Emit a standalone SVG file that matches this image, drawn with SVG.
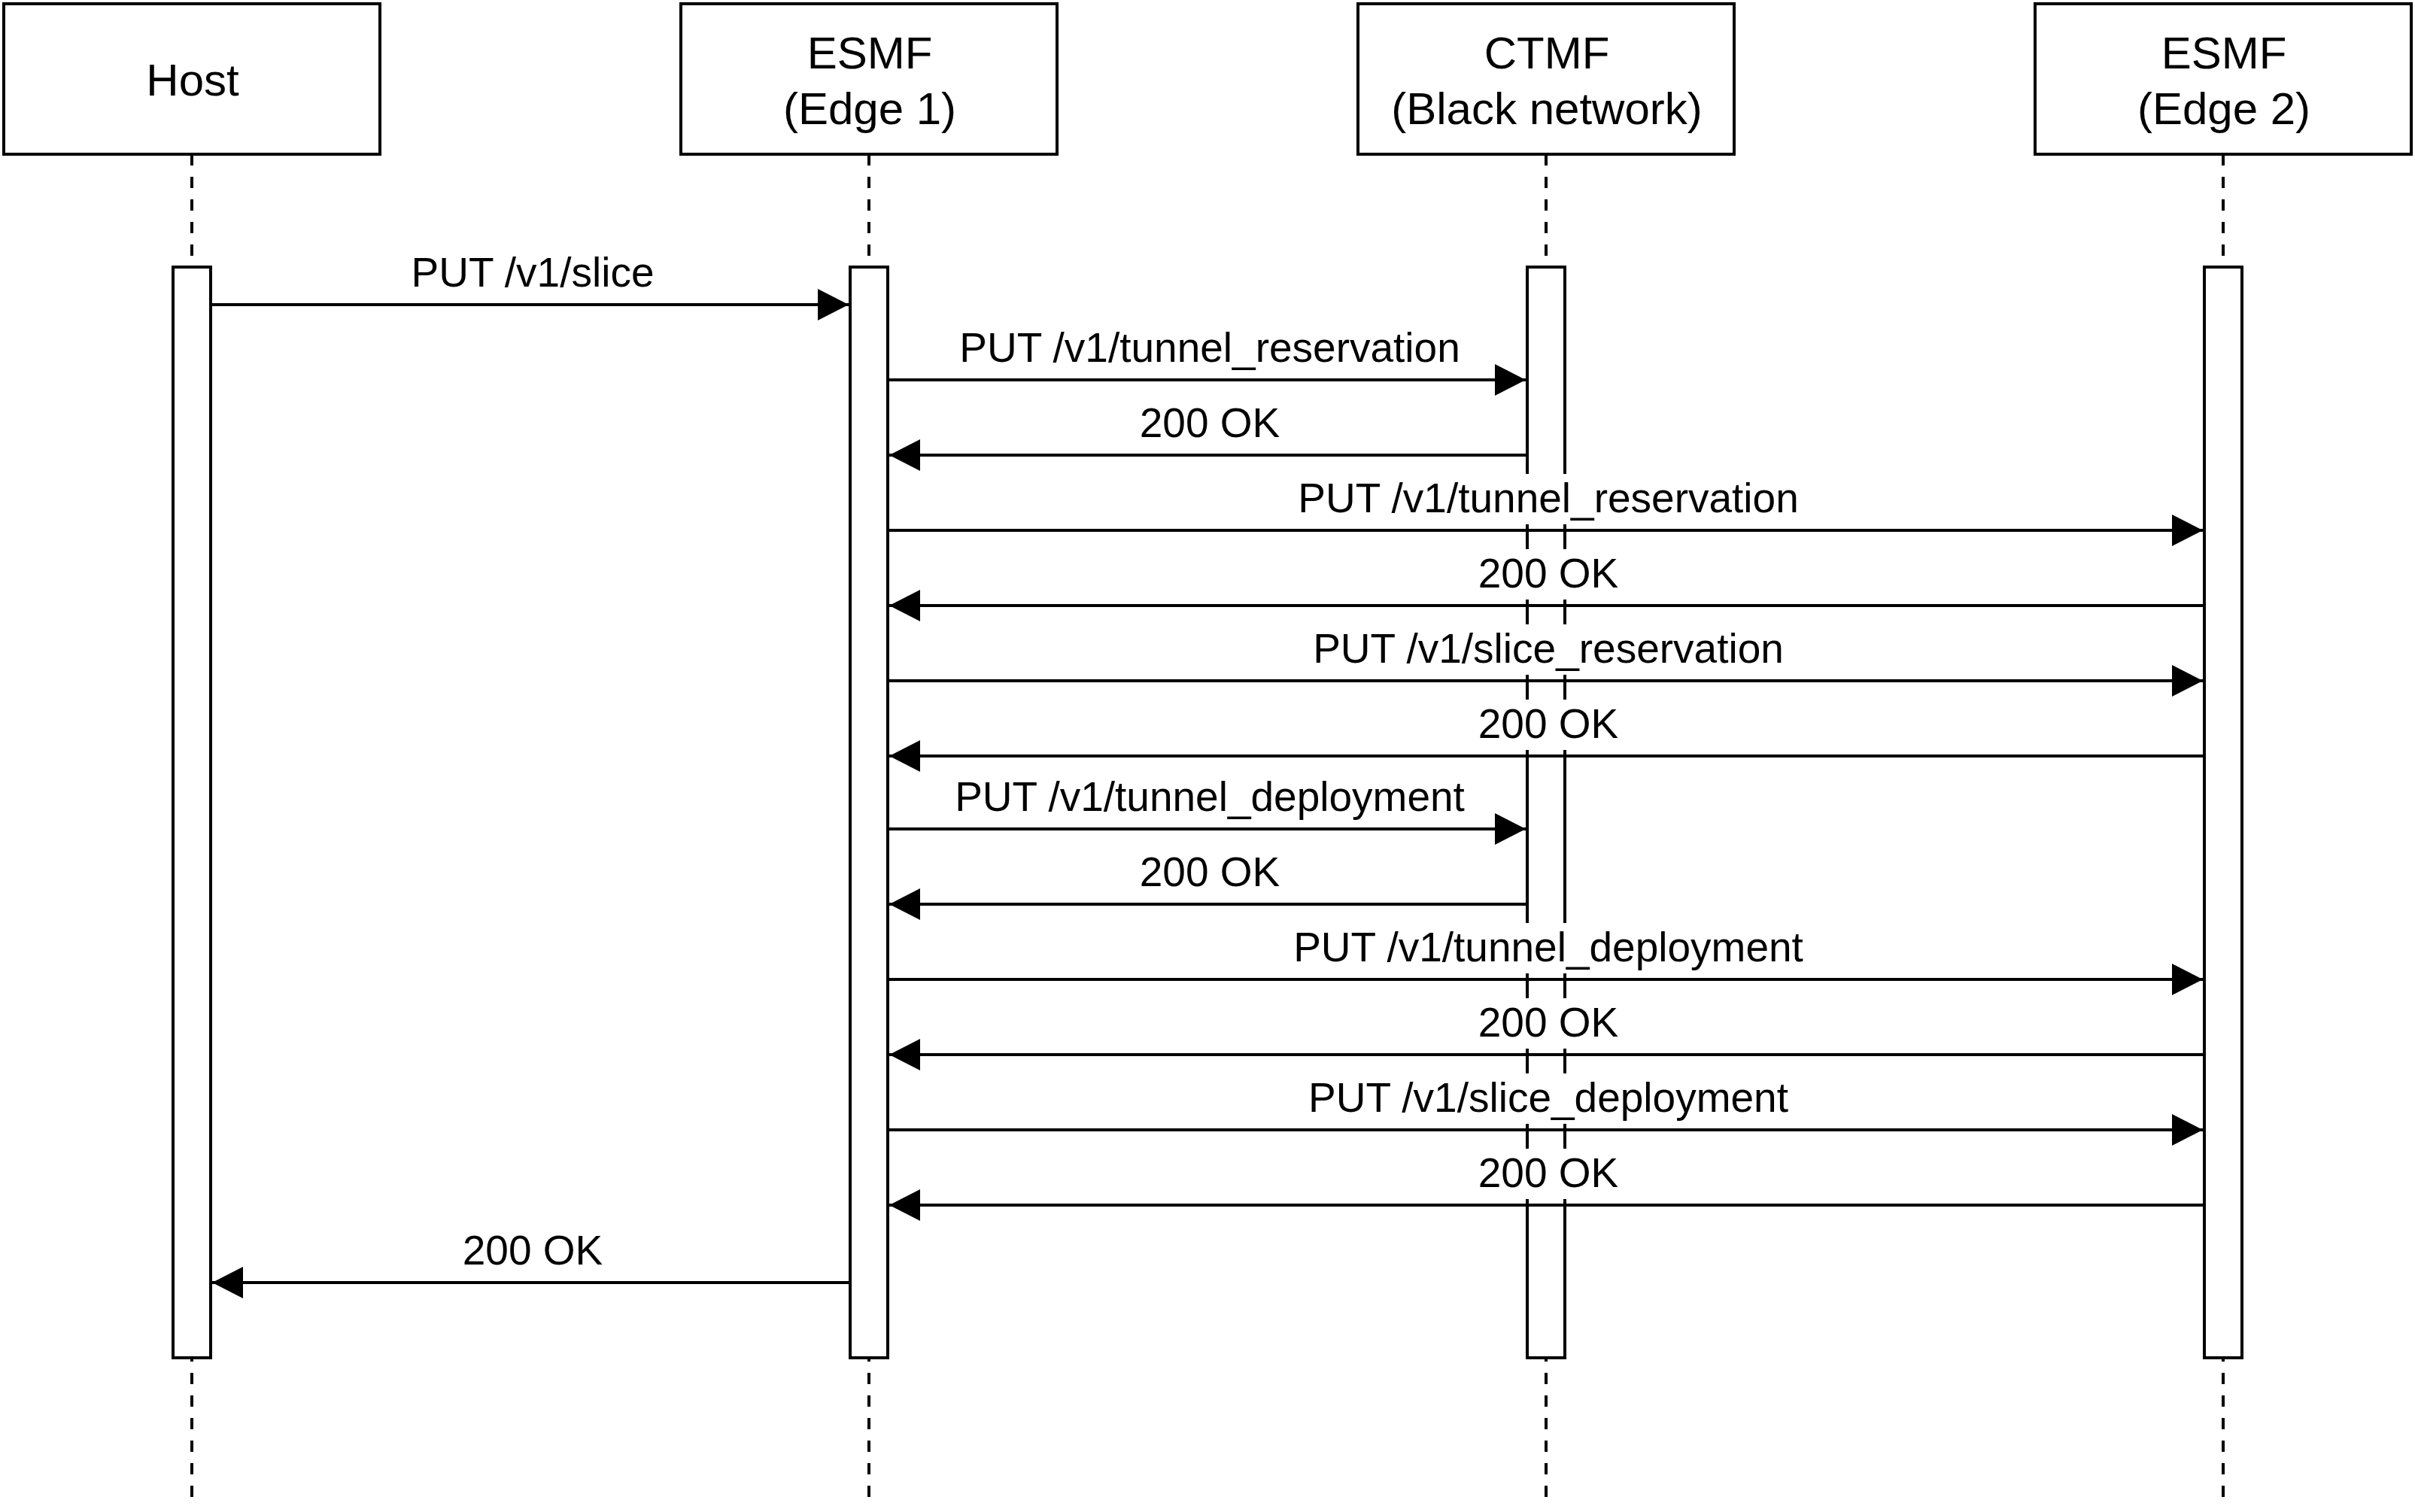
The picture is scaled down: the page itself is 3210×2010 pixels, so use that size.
<svg xmlns="http://www.w3.org/2000/svg" width="3210" height="2010" viewBox="0 0 3210 2010">
<style>
.box{fill:#fff;stroke:#000;stroke-width:4}
.life{stroke:#000;stroke-width:4;stroke-dasharray:15 15;fill:none}
.act{fill:#fff;stroke:#000;stroke-width:4}
.msg{stroke:#000;stroke-width:4;fill:none;marker-end:url(#ah)}
.hdr{font-family:"Liberation Sans",Arial,sans-serif;font-size:60px;fill:#000;text-anchor:middle}
.lbl{font-family:"Liberation Sans",Arial,sans-serif;font-size:55px;fill:#000;text-anchor:middle}
.bg{fill:#fff;stroke:none}
</style>
<defs>
<marker id="ah" markerUnits="userSpaceOnUse" viewBox="0 0 41 42" refX="41" refY="21" markerWidth="41" markerHeight="42" orient="auto">
<path d="M0,0 L41,21 L0,42 Z" fill="#000"/>
</marker>
</defs>
<rect width="3210" height="2010" fill="#fff"/>
<g id="lifelines">
<line class="life" x1="255" y1="205" x2="255" y2="1990"/>
<line class="life" x1="1155" y1="205" x2="1155" y2="1990"/>
<line class="life" x1="2055" y1="205" x2="2055" y2="1990"/>
<line class="life" x1="2955" y1="205" x2="2955" y2="1990"/>
</g>
<g id="host">
<rect class="box" x="5" y="5" width="500" height="200"/>
<text class="hdr" x="256" y="127">Host</text>
<rect class="act" x="230" y="355" width="50" height="1450"/>
</g>
<g id="esmf1">
<rect class="box" x="905" y="5" width="500" height="200"/>
<text class="hdr" x="1156" y="91">ESMF</text>
<text class="hdr" x="1156" y="165">(Edge 1)</text>
<rect class="act" x="1130" y="355" width="50" height="1450"/>
</g>
<g id="ctmf">
<rect class="box" x="1805" y="5" width="500" height="200"/>
<text class="hdr" x="2056" y="91">CTMF</text>
<text class="hdr" x="2056" y="165">(Black network)</text>
<rect class="act" x="2030" y="355" width="50" height="1450"/>
</g>
<g id="esmf2">
<rect class="box" x="2705" y="5" width="500" height="200"/>
<text class="hdr" x="2956" y="91">ESMF</text>
<text class="hdr" x="2956" y="165">(Edge 2)</text>
<rect class="act" x="2930" y="355" width="50" height="1450"/>
</g>
<g id="connectors">
<line class="msg" x1="282" y1="405" x2="1128" y2="405"/>
<line class="msg" x1="1182" y1="505" x2="2028" y2="505"/>
<line class="msg" x1="2028" y1="605" x2="1182" y2="605"/>
<line class="msg" x1="1182" y1="705" x2="2928" y2="705"/>
<line class="msg" x1="2928" y1="805" x2="1182" y2="805"/>
<line class="msg" x1="1182" y1="905" x2="2928" y2="905"/>
<line class="msg" x1="2928" y1="1005" x2="1182" y2="1005"/>
<line class="msg" x1="1182" y1="1102" x2="2028" y2="1102"/>
<line class="msg" x1="2028" y1="1202" x2="1182" y2="1202"/>
<line class="msg" x1="1182" y1="1302" x2="2928" y2="1302"/>
<line class="msg" x1="2928" y1="1402" x2="1182" y2="1402"/>
<line class="msg" x1="1182" y1="1502" x2="2928" y2="1502"/>
<line class="msg" x1="2928" y1="1602" x2="1182" y2="1602"/>
<line class="msg" x1="1128" y1="1705" x2="282" y2="1705"/>
<rect class="bg" x="1723" y="630" width="670" height="67"/>
<rect class="bg" x="1963" y="730" width="190" height="67"/>
<rect class="bg" x="1742" y="830" width="632" height="67"/>
<rect class="bg" x="1963" y="930" width="190" height="67"/>
<rect class="bg" x="1716" y="1227" width="684" height="67"/>
<rect class="bg" x="1963" y="1327" width="190" height="67"/>
<rect class="bg" x="1736" y="1427" width="644" height="67"/>
<rect class="bg" x="1963" y="1527" width="190" height="67"/>
<text class="lbl" x="708" y="381">PUT /v1/slice</text>
<text class="lbl" x="1608" y="481">PUT /v1/tunnel_reservation</text>
<text class="lbl" x="1608" y="581">200 OK</text>
<text class="lbl" x="2058" y="681">PUT /v1/tunnel_reservation</text>
<text class="lbl" x="2058" y="781">200 OK</text>
<text class="lbl" x="2058" y="881">PUT /v1/slice_reservation</text>
<text class="lbl" x="2058" y="981">200 OK</text>
<text class="lbl" x="1608" y="1078">PUT /v1/tunnel_deployment</text>
<text class="lbl" x="1608" y="1178">200 OK</text>
<text class="lbl" x="2058" y="1278">PUT /v1/tunnel_deployment</text>
<text class="lbl" x="2058" y="1378">200 OK</text>
<text class="lbl" x="2058" y="1478">PUT /v1/slice_deployment</text>
<text class="lbl" x="2058" y="1578">200 OK</text>
<text class="lbl" x="708" y="1681">200 OK</text>
</g>
</svg>
